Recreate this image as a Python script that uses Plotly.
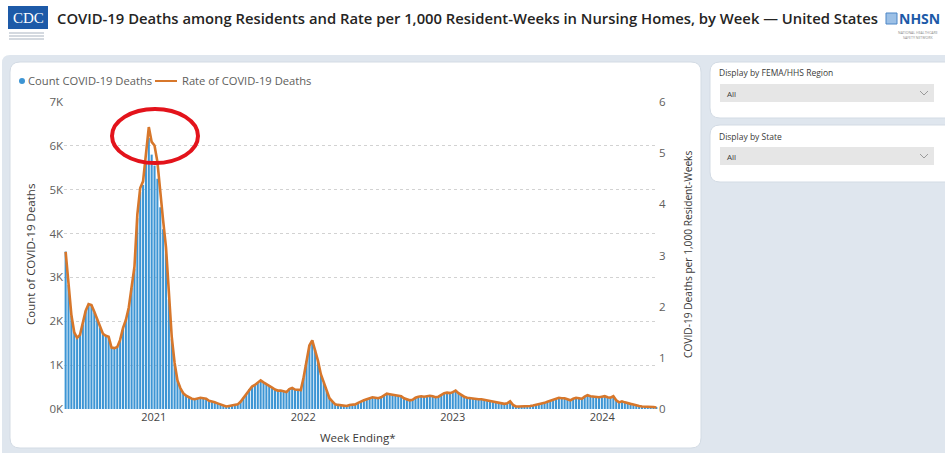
import plotly.graph_objects as go
import pandas as pd

# ---------------- data ----------------
week_start = "2020-05-31"

count_deaths = [
    3590, 2830, 2130, 1740, 1610, 1690, 1930, 2230, 2380, 2360,
    2200, 2030, 1860, 1700, 1650, 1630, 1390, 1380, 1410, 1560,
    1830, 2010, 2290, 2760, 3200, 4350, 4950, 5110, 5600, 6180,
    5800, 5550, 5250, 4600, 4100, 3550, 2500, 1600, 1030, 640,
    480, 360, 300, 270, 230, 220, 240, 260, 250, 230,
    190, 170, 150, 130, 100, 80, 60, 70, 80, 90,
    110, 160, 260, 340, 450, 510, 550, 600, 650, 610,
    570, 530, 490, 440, 420, 420, 400, 390, 460, 480,
    450, 440, 430, 720, 1100, 1450, 1570, 1350, 1100, 800,
    600, 420, 250, 170, 110, 90, 80, 70, 70, 90,
    100, 110, 140, 170, 200, 220, 240, 270, 260, 250,
    270, 310, 350, 340, 330, 320, 300, 290, 240, 220,
    200, 210, 260, 280, 290, 280, 290, 300, 290, 270,
    280, 330, 360, 370, 360, 390, 420, 360, 310, 280,
    260, 240, 230, 230, 220, 220, 210, 200, 190, 180,
    160, 150, 140, 120, 130, 180, 90, 60, 60, 60,
    60, 70, 70, 80, 90, 100, 120, 140, 160, 190,
    210, 240, 260, 250, 240, 220, 200, 230, 260, 240,
    230, 280, 320, 290, 280, 280, 270, 280, 290, 270,
    260, 290, 200, 150, 170, 150, 130, 120, 100, 80,
    70, 60, 60, 60, 50, 50, 40,
]

rate_deaths = [
    3.07, 2.44, 1.84, 1.50, 1.39, 1.45, 1.67, 1.92, 2.05, 2.03,
    1.90, 1.75, 1.61, 1.47, 1.43, 1.41, 1.20, 1.19, 1.21, 1.35,
    1.58, 1.74, 1.98, 2.39, 2.78, 3.80, 4.32, 4.45, 4.92, 5.51,
    5.22, 5.15, 4.83, 4.19, 3.68, 3.16, 2.22, 1.41, 0.90, 0.56,
    0.41, 0.31, 0.26, 0.23, 0.20, 0.19, 0.21, 0.22, 0.21, 0.20,
    0.16, 0.15, 0.13, 0.11, 0.09, 0.07, 0.05, 0.06, 0.07, 0.08,
    0.09, 0.14, 0.22, 0.29, 0.38, 0.44, 0.47, 0.51, 0.56, 0.52,
    0.49, 0.45, 0.42, 0.38, 0.36, 0.36, 0.34, 0.33, 0.39, 0.41,
    0.38, 0.38, 0.37, 0.62, 0.94, 1.24, 1.34, 1.15, 0.94, 0.68,
    0.51, 0.36, 0.21, 0.15, 0.09, 0.08, 0.07, 0.06, 0.06, 0.08,
    0.09, 0.09, 0.12, 0.15, 0.17, 0.19, 0.21, 0.23, 0.22, 0.21,
    0.23, 0.27, 0.30, 0.29, 0.28, 0.27, 0.26, 0.25, 0.21, 0.19,
    0.17, 0.18, 0.22, 0.24, 0.25, 0.24, 0.25, 0.26, 0.25, 0.23,
    0.24, 0.28, 0.31, 0.32, 0.31, 0.33, 0.36, 0.31, 0.27, 0.24,
    0.22, 0.21, 0.20, 0.20, 0.19, 0.19, 0.18, 0.17, 0.16, 0.15,
    0.14, 0.13, 0.12, 0.10, 0.11, 0.15, 0.08, 0.05, 0.05, 0.05,
    0.05, 0.06, 0.06, 0.07, 0.08, 0.09, 0.10, 0.12, 0.14, 0.16,
    0.18, 0.21, 0.22, 0.21, 0.21, 0.19, 0.17, 0.20, 0.22, 0.21,
    0.20, 0.24, 0.27, 0.25, 0.24, 0.24, 0.23, 0.24, 0.25, 0.23,
    0.22, 0.25, 0.17, 0.13, 0.15, 0.13, 0.11, 0.10, 0.09, 0.07,
    0.06, 0.05, 0.05, 0.05, 0.04, 0.04, 0.03,
]

left_tick_vals = [0, 1000, 2000, 3000, 4000, 5000, 6000, 7000]
left_tick_text = ["0K", "1K", "2K", "3K", "4K", "5K", "6K", "7K"]
right_tick_vals = [0, 1, 2, 3, 4, 5, 6]
year_tick_vals = ["2021-01-01", "2022-01-01", "2023-01-01", "2024-01-01"]
year_tick_text = ["2021", "2022", "2023", "2024"]

weeks = pd.date_range(week_start, periods=len(count_deaths), freq="7D")

# ---------------- geometry helpers (pixel -> paper) ----------------
W, H = 945, 453
L, R, T, B = 64, 658, 102, 409


def px(x):
    return (x - L) / (R - L)


def py(y):
    return (B - y) / (B - T)


def rrect(x0, y0, x1, y1, r):
    return (
        f"M {px(x0 + r)},{py(y0)} L {px(x1 - r)},{py(y0)} "
        f"Q {px(x1)},{py(y0)} {px(x1)},{py(y0 + r)} "
        f"L {px(x1)},{py(y1 - r)} Q {px(x1)},{py(y1)} {px(x1 - r)},{py(y1)} "
        f"L {px(x0 + r)},{py(y1)} Q {px(x0)},{py(y1)} {px(x0)},{py(y1 - r)} "
        f"L {px(x0)},{py(y0 + r)} Q {px(x0)},{py(y0)} {px(x0 + r)},{py(y0)} Z"
    )


FONT = "Open Sans"
GRAY = "#605e5c"
BLUE = "#3d95d4"

fig = go.Figure()
fig.add_trace(go.Bar(
    x=weeks, y=count_deaths, name="Count COVID-19 Deaths",
    marker=dict(color=BLUE, line=dict(width=0)), yaxis="y",
))
fig.add_trace(go.Scatter(
    x=weeks, y=rate_deaths, name="Rate of COVID-19 Deaths", mode="lines",
    line=dict(color="#d7772b", width=2.6), yaxis="y2",
))

shapes = []
# dashboard background
shapes.append(dict(type="path", xref="paper", yref="paper", layer="below",
                   path=rrect(2, 55, 960, 470, 8), fillcolor="#dfe6ee",
                   line=dict(width=0)))
# chart card
shapes.append(dict(type="path", xref="paper", yref="paper", layer="below",
                   path=rrect(10, 62, 701, 448, 10), fillcolor="#ffffff",
                   line=dict(color="#d3dbe4", width=1)))
# slicer cards
shapes.append(dict(type="path", xref="paper", yref="paper", layer="below",
                   path=rrect(710, 62, 960, 118, 10), fillcolor="#ffffff",
                   line=dict(color="#d3dbe4", width=1)))
shapes.append(dict(type="path", xref="paper", yref="paper", layer="below",
                   path=rrect(710, 125, 960, 182, 10), fillcolor="#ffffff",
                   line=dict(color="#d3dbe4", width=1)))
# dropdown boxes
for y0 in (84, 147):
    shapes.append(dict(type="rect", xref="paper", yref="paper", layer="above",
                       x0=px(720), x1=px(934), y0=py(y0), y1=py(y0 + 18),
                       fillcolor="#e6e6e6", line=dict(width=0)))
    yc = y0 + 9
    shapes.append(dict(type="path", xref="paper", yref="paper", layer="above",
                       path=f"M {px(920)},{py(yc - 2)} L {px(924)},{py(yc + 2)} L {px(928)},{py(yc - 2)}",
                       line=dict(color="#9a9a9a", width=1)))
# CDC logo
shapes.append(dict(type="rect", xref="paper", yref="paper", layer="above",
                   x0=px(8), x1=px(48), y0=py(6), y1=py(29),
                   fillcolor="#1d5aa8", line=dict(width=0)))
for yy in (33, 36, 39):
    shapes.append(dict(type="line", xref="paper", yref="paper", layer="above",
                       x0=px(9), x1=px(44), y0=py(yy), y1=py(yy),
                       line=dict(color="#a9b3c0", width=1)))
# NHSN icon
shapes.append(dict(type="rect", xref="paper", yref="paper", layer="above",
                   x0=px(886), x1=px(897), y0=py(13), y1=py(24),
                   fillcolor="#9cc0e6", line=dict(color="#4d86c6", width=1)))
# legend marker and line
shapes.append(dict(type="circle", xref="paper", yref="paper", layer="above",
                   x0=px(19), x1=px(25), y0=py(78), y1=py(84),
                   fillcolor=BLUE, line=dict(width=0)))
shapes.append(dict(type="line", xref="paper", yref="paper", layer="above",
                   x0=px(155), x1=px(177), y0=py(81), y1=py(81),
                   line=dict(color="#d7772b", width=2)))
# red highlight ellipse
shapes.append(dict(type="circle", xref="paper", yref="paper", layer="above",
                   x0=px(112), x1=px(198), y0=py(109), y1=py(163),
                   line=dict(color="#e3131b", width=4)))

ann = []


def add_text(text, x, y, size, color, xanchor="left", yanchor="middle",
             angle=0, weight="normal", family=FONT):
    ann.append(dict(text=text, x=px(x), y=py(y), xref="paper", yref="paper",
                    xanchor=xanchor, yanchor=yanchor, showarrow=False,
                    textangle=angle, borderpad=0,
                    font=dict(family=family, size=size, color=color, weight=weight)))


add_text("COVID-19 Deaths among Residents and Rate per 1,000 Resident-Weeks in Nursing Homes, by Week — United States",
         56, 18, 14.8, "#252423", weight=600)
add_text("CDC", 28, 17.5, 15, "#ffffff", xanchor="center", family="Liberation Serif")
add_text("NHSN", 898, 18, 14, "#1d5aa8", weight="bold")
add_text("NATIONAL HEALTHCARE<br>SAFETY NETWORK", 918, 29, 3.5, "#8a8a8a",
         xanchor="center", yanchor="top")

add_text("Count COVID-19 Deaths", 27, 81, 11.2, GRAY)
add_text("Rate of COVID-19 Deaths", 181, 81, 11.2, GRAY)

add_text("Count of COVID-19 Deaths", 30, 255, 11.5, "#3b3a39", xanchor="center", angle=-90)
add_text("COVID-19 Deaths per 1,000 Resident-Weeks", 688, 255, 10.2, "#3b3a39", xanchor="center", angle=-90)
add_text("Week Ending*", 358, 437, 11.5, "#3b3a39", xanchor="center")

add_text("Display by FEMA/HHS Region", 718, 73, 8.5, "#3b3a39")
add_text("All", 726, 93, 8, "#3b3a39")
add_text("Display by State", 718, 136, 8.5, "#3b3a39")
add_text("All", 726, 156, 8, "#3b3a39")

fig.update_layout(
    width=W, height=H,
    margin=dict(l=L, r=W - R, t=T, b=H - B, autoexpand=False),
    paper_bgcolor="#ffffff",
    plot_bgcolor="rgba(0,0,0,0)",
    showlegend=False,
    bargap=0.28,
    font=dict(family=FONT, color=GRAY),
    shapes=shapes,
    annotations=ann,
    xaxis=dict(
        type="date", range=["2020-05-27", "2024-05-16"],
        tickvals=year_tick_vals, ticktext=year_tick_text,
        tickfont=dict(size=11, color="#444444"),
        showgrid=False, zeroline=False, showline=False, ticks="",
    ),
    yaxis=dict(
        range=[0, 7000], tickvals=left_tick_vals, ticktext=left_tick_text,
        tickfont=dict(size=11.5, color=GRAY),
        showgrid=True, gridcolor="#d2d2d2", griddash="dot", gridwidth=1,
        zeroline=False, showline=False, ticks="",
    ),
    yaxis2=dict(
        range=[0, 6], tickvals=right_tick_vals, overlaying="y", side="right",
        tickfont=dict(size=11.5, color=GRAY),
        showgrid=False, zeroline=False, showline=False, ticks="",
    ),
)

fig.write_html("out.html", config={"displayModeBar": False},
               post_script="document.body.style.margin='0px';")
